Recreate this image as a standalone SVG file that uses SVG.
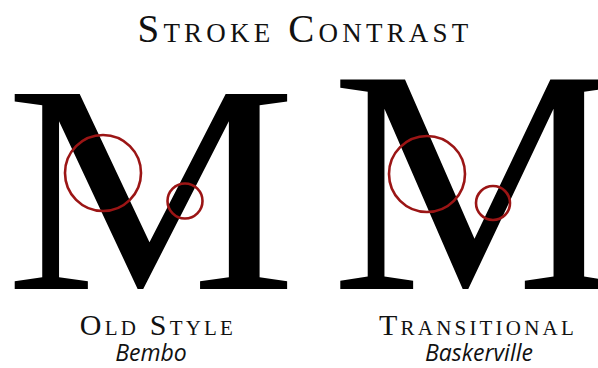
<svg xmlns="http://www.w3.org/2000/svg" width="598" height="368" viewBox="0 0 598 368">
<style>
.cap{font-family:"Liberation Serif","DejaVu Serif",serif;font-variant:small-caps;fill:#111;}
.it{font-family:"Open Sans","Noto Sans",sans-serif;font-style:italic;fill:#111;}
.big{font-family:"Liberation Serif","DejaVu Serif",serif;fill:#000;}
.ring{fill:none;stroke:#9b1515;stroke-width:2.6;}
</style>
<rect width="598" height="368" fill="#fff"/>
<g id="title">
<text class="cap" x="305" y="42" text-anchor="middle" letter-spacing="4.2" font-size="39">Stroke Contrast</text>
</g>
<g id="oldstyle">
<text class="big" transform="translate(151,289) scale(1.1,1)" text-anchor="middle" font-size="298">M</text>
<circle class="ring" cx="103" cy="173" r="38"/>
<circle class="ring" cx="185" cy="201" r="17.5"/>
<text class="cap" x="158" y="335" text-anchor="middle" letter-spacing="3.2" font-size="30">Old Style</text>
<text class="it" x="151" y="361" text-anchor="middle" font-size="23">Bembo</text>
</g>
<g id="transitional">
<text class="big" transform="translate(476,289) scale(1.02,1)" text-anchor="middle" font-size="320">M</text>
<circle class="ring" cx="427" cy="174" r="38"/>
<circle class="ring" cx="493" cy="203" r="17"/>
<text class="cap" x="478" y="335" text-anchor="middle" letter-spacing="3.2" font-size="30">Transitional</text>
<text class="it" x="479" y="361" text-anchor="middle" font-size="23">Baskerville</text>
</g>
</svg>
